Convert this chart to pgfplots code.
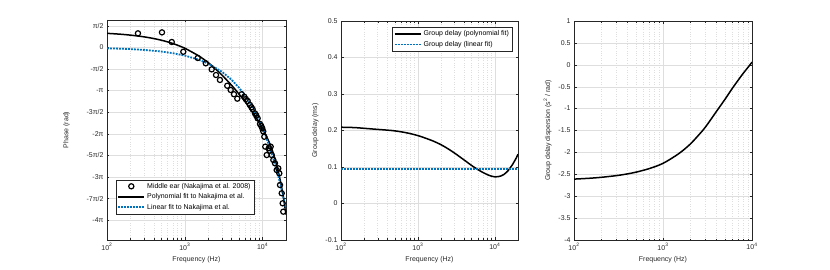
\documentclass[border=0pt]{standalone}
\usepackage{fontspec}
\setmainfont{Liberation Sans}
\usepackage{pgfplots}
\pgfplotsset{compat=1.18}
\definecolor{mblue}{RGB}{0,114,189}
\definecolor{mgray}{RGB}{38,38,38}
\definecolor{gridc}{RGB}{222,222,222}
\pgfplotsset{
  legend image code/.code={\draw[mark repeat=2,mark phase=2,#1] plot coordinates {(0cm,0cm) (0.46cm,0cm) (0.92cm,0cm)};},
  every axis/.append style={
    scale only axis,
    axis line style={mgray, line width=0.4pt},
    major tick length=2.5bp, minor tick length=1.5bp,
    xmajorgrids, ymajorgrids, xminorgrids,
    major grid style={gridc, line width=0.4pt},
    minor grid style={gridc, dotted, line width=0.45pt},
    xtick={100,1000,10000},
    xticklabels={10\textsuperscript{2},10\textsuperscript{3},10\textsuperscript{4}},
    xlabel={Frequency (Hz)},
    legend cell align=left,
  },
  every tick/.append style={mgray, line width=0.4pt},
  every tick label/.append style={font=\fontsize{7}{8}\selectfont, text=mgray},
  every axis label/.append style={font=\fontsize{7}{8}\selectfont, text=mgray},
  every axis legend/.append style={font=\fontsize{7}{8}\selectfont, draw=mgray, line width=0.4pt, inner sep=1.2pt, text=black},
  bluefit/.style={color=mblue, line width=1.8bp, dash pattern=on 1.8bp off 1.2bp},
}
\begin{document}
\begin{tikzpicture}
% Panel 1: phase
\begin{semilogxaxis}[at={(107bp,30bp)}, anchor=south west, width=179bp, height=220bp,
  xmin=100, xmax=20000, ymin=-14, ymax=2,
  minor xtick={200,300,400,500,600,700,800,900,2000,3000,4000,5000,6000,7000,8000,9000,20000},
  ytick={-12.5664,-10.9956,-9.4248,-7.8540,-6.2832,-4.7124,-3.1416,-1.5708,0,1.5708},
  yticklabels={-4π,-7π/2,-3π,-5π/2,-2π,-3π/2,-π,-π/2,0,π/2},
  ylabel={Phase (rad)}, ylabel shift=10bp,
  legend style={at={(0.05,0.118)}, anchor=south west}]
\addplot[only marks, mark=o, mark size=2.6bp, line width=1.2bp, black] coordinates {
(250,1.03) (509,1.10) (680,0.40) (957,-0.31) (1466,-0.76) (1860,-1.15) (2218,-1.59)
(2520,-2.00) (2830,-2.36) (3515,-2.78) (3890,-3.09) (4290,-3.40) (4730,-3.72)
(5390,-3.40) (5820,-3.58) (6100,-3.75) (6430,-3.89) (6880,-4.18) (7200,-4.35) (7450,-4.49)
(7980,-4.79) (8300,-4.95) (8640,-5.15) (9260,-5.56) (9600,-5.70) (9910,-5.88)
(10200,-6.10) (10520,-6.49) (10830,-7.21) (11300,-7.82) (11980,-7.33) (12300,-7.50)
(12700,-7.21) (13090,-7.82) (13740,-8.18) (14440,-8.42) (15180,-8.91) (15920,-8.79)
(16400,-9.15) (16750,-10.0) (17620,-10.6) (18120,-11.33) (18460,-11.94)};
\addlegendentry{Middle ear (Nakajima et al. 2008)}
\addplot[black, line width=1.5bp, smooth] coordinates {
(100,1.03) (150,0.965) (200,0.90) (300,0.775) (400,0.65) (500,0.53) (600,0.41) (700,0.29)
(800,0.175) (900,0.06) (1000,-0.05) (1500,-0.60) (2000,-1.10) (2500,-1.57) (3000,-2.00)
(4000,-2.75) (5000,-3.40) (6000,-3.97) (7000,-4.50) (8000,-4.98) (9000,-5.45)
(10000,-5.90) (11000,-6.36) (12000,-6.82) (13000,-7.30) (14000,-7.85) (15000,-8.45)
(16000,-9.07) (17000,-9.75) (18000,-10.50) (19000,-11.30) (20000,-12.15)};
\addlegendentry{Polynomial fit to Nakajima et al.}
\addplot[bluefit] coordinates {
(100,-0.059) (150,-0.088) (200,-0.118) (300,-0.176) (500,-0.294) (700,-0.411)
(1000,-0.588) (1500,-0.881) (2000,-1.175) (3000,-1.762) (4000,-2.350) (5000,-2.937)
(6000,-3.525) (7000,-4.112) (8000,-4.700) (10000,-5.875) (12000,-7.050) (14000,-8.225)
(16000,-9.400) (18000,-10.575) (20000,-11.750)};
\addlegendentry{Linear fit to Nakajima et al.}
\end{semilogxaxis}
% Panel 2: group delay
\begin{semilogxaxis}[at={(341bp,30bp)}, anchor=south west, width=177bp, height=219bp,
  xmin=100, xmax=20000, ymin=-0.1, ymax=0.5,
  minor xtick={200,300,400,500,600,700,800,900,2000,3000,4000,5000,6000,7000,8000,9000,20000},
  ytick={-0.1,0,0.1,0.2,0.3,0.4,0.5},
  yticklabels={-0.1,0,0.1,0.2,0.3,0.4,0.5},
  ylabel={Group delay (ms)},
  legend style={at={(0.968,0.971)}, anchor=north east}]
\addplot[black, line width=1.5bp, smooth] coordinates {
(100,0.209) (150,0.208) (200,0.206) (300,0.203) (400,0.201) (500,0.199) (700,0.194)
(1000,0.186) (1500,0.173) (2000,0.161) (2500,0.149) (3000,0.138) (4000,0.119)
(5000,0.104) (6000,0.093) (7000,0.085) (8000,0.079) (9000,0.075) (10000,0.073)
(11000,0.0735) (12000,0.0755) (13000,0.079) (14000,0.0845) (15000,0.091) (16000,0.099)
(17000,0.107) (18000,0.116) (19000,0.125) (20000,0.135)};
\addlegendentry{Group delay (polynomial fit)}
\addplot[bluefit] coordinates {
(100,0.0935) (1000,0.0935) (10000,0.0935) (20000,0.0935)};
\addlegendentry{Group delay (linear fit)}
\end{semilogxaxis}
% Panel 3: group delay dispersion
\begin{semilogxaxis}[at={(574bp,30bp)}, anchor=south west, width=178bp, height=219bp,
  xmin=100, xmax=10000, ymin=-4, ymax=1,
  minor xtick={200,300,400,500,600,700,800,900,2000,3000,4000,5000,6000,7000,8000,9000},
  ytick={-4,-3.5,-3,-2.5,-2,-1.5,-1,-0.5,0,0.5,1},
  yticklabels={-4,-3.5,-3,-2.5,-2,-1.5,-1,-0.5,0,0.5,1},
  ylabel={Group delay dispersion (s\textsuperscript{2} / rad)}]
\addplot[black, line width=1.5bp, smooth] coordinates {
(100,-2.61) (150,-2.59) (200,-2.57) (300,-2.53) (400,-2.49) (500,-2.45) (700,-2.37)
(1000,-2.25) (1500,-2.03) (2000,-1.82) (2500,-1.61) (3000,-1.42) (4000,-1.06)
(5000,-0.78) (6000,-0.54) (7000,-0.35) (8000,-0.19) (9000,-0.06) (10000,0.06)};
\node[anchor=south west, inner sep=0pt, font=\fontsize{7}{8}\selectfont, text=mgray] at (rel axis cs:0,1) [yshift=2bp] {×10\textsuperscript{-9}};
\end{semilogxaxis}
\pgfresetboundingbox
\useasboundingbox (0,0) rectangle (830bp,270bp);
\end{tikzpicture}
\end{document}
